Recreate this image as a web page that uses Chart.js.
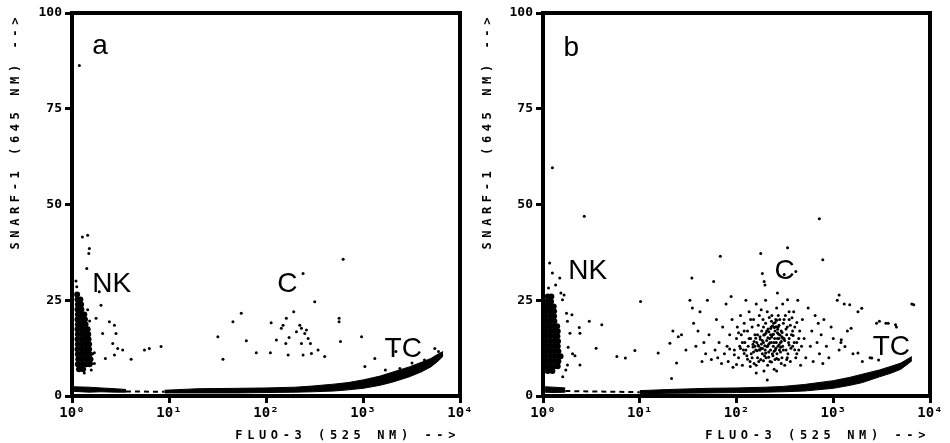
<!DOCTYPE html>
<html>
<head>
<meta charset="utf-8">
<script src="https://cdn.jsdelivr.net/npm/chart.js@4.4.1/dist/chart.umd.min.js"></script>
<style>
  body { margin: 0; background: #fff; width: 950px; height: 443px; overflow: hidden; display: flex; }
  .panel { width: 475px; height: 443px; }
</style>
</head>
<body>
<div class="panel"><canvas id="chart-a" width="475" height="443"></canvas></div>
<div class="panel"><canvas id="chart-b" width="475" height="443"></canvas></div>
<script>
// axes
const xTickValues = [1, 10, 100, 1000, 10000];
const xTickLabels = ['10⁰', '10¹', '10²', '10³', '10⁴'];
const yTickValues = [0, 25, 50, 75, 100];
const xTitle = 'FLUO-3 (525 NM) -->';
const yTitle = 'SNARF-1 (645 NM) -->';

// panel a: NK cluster
const aNK = [
  [1.18,7.0],[1.30,7.0],
  [1.15,8.3],[1.27,8.3],[1.40,8.3],[1.52,8.3],
  [1.16,9.6],[1.28,9.6],[1.41,9.6],[1.55,9.6],
  [1.15,10.9],[1.27,10.9],[1.39,10.9],[1.52,10.9],
  [1.14,12.2],[1.26,12.2],[1.38,12.2],[1.50,12.2],
  [1.15,13.5],[1.27,13.5],[1.40,13.5],[1.50,13.5],
  [1.14,14.8],[1.26,14.8],[1.38,14.8],[1.48,14.8],
  [1.15,16.1],[1.27,16.1],[1.39,16.1],[1.47,16.1],
  [1.14,17.4],[1.26,17.4],[1.38,17.4],[1.45,17.4],
  [1.15,18.7],[1.27,18.7],[1.38,18.7],
  [1.14,20.0],[1.26,20.0],[1.36,20.0],
  [1.15,21.3],[1.26,21.3],[1.34,21.3],
  [1.14,22.6],[1.25,22.6],
  [1.15,23.9],[1.24,23.9],
  [1.14,25.2],[1.22,25.2],
  [1.13,26.5]
];
// panel a: single events (stragglers, C cells, outliers)
const aScatter = [
  [1.19,86.3],[1.28,41.5],[1.45,42],[1.51,38.5],[1.49,37.2],[1.42,33.3],[1.91,27.2],[1.99,23.7],
  [1.77,20.3],[2.43,19.4],[2.74,18.5],[2.07,16.3],[2.84,16.3],[2.63,13.7],[2.96,12.4],[3.33,12],
  [2.74,10.7],[2.21,9.8],[4.07,9.6],[1.70,11.3],[1.70,8.5],[5.58,12],[6.27,12.4],[8.28,12.9],
  [1.63,11],[1.60,8.5],[1.34,6.0],[1.58,6.8],[1.12,28.5],[1.10,30],[1.52,19.6],[1.45,22.5],
  [31.9,15.5],[36,9.6],[45.6,19.4],[55.6,21.6],[62.7,14.4],[79.4,11.3],[111,11.3],[113,19.1],
  [128,14.6],[144,17.7],[150,18.5],[162,20.3],[160,13.7],[169,10.7],[173,15.3],[193,22],
  [206,16.8],[223,18.5],[232,17.7],[232,13.7],[241,10.7],[251,16.3],[261,17.2],[272,15],
  [287,13.7],[294,11.1],[318,24.6],[344,12],[403,10.3],[241,32],[624,35.7],[567,20.3],
  [567,19.4],[586,14.2],[966,15.5],[1045,7.7],[1324,9.8],[2183,11.6],
  [2400,7.2],[4300,9.4],[5500,12.4],[6000,11.6],[3200,8.6],[1700,6.8]
];
// panel a: TC band edges
const aTcLeftUpper = [[1.05,2.4],[1.5,2.3],[2,2.1],[2.8,1.9],[3.6,1.7]];
const aTcLeftLower = [[1.05,1.2],[1.5,1.0],[2,1.1],[2.8,1.0],[3.6,1.0]];
const aTcDash = [[3.6,1.2],[9,1.1]];
const aTcUpper = [[9,1.5],[20,1.9],[50,2.0],[100,2.1],[200,2.3],[300,2.6],[500,3.1],[700,3.5],
  [1000,4.2],[1500,5.2],[2000,6.2],[3000,7.6],[4000,8.8],[5000,9.8],[6000,11.0],[6700,11.6]];
const aTcLower = [[9,0.8],[20,0.8],[50,0.8],[100,0.9],[200,1.0],[300,1.1],[500,1.3],[700,1.6],
  [1000,2.0],[1500,2.8],[2000,3.6],[3000,5.0],[4000,6.3],[5000,7.6],[6000,9.2],[6700,10.4]];
const aLabels = [
  { text: 'a', x: 1.95, y: 89.4 },
  { text: 'NK', x: 2.57, y: 27.2 },
  { text: 'C', x: 166, y: 27.2 },
  { text: 'TC', x: 2600, y: 10.3 }
];

// panel b: NK cluster
const bNK = [
  [1.12,6.5],[1.25,6.5],
  [1.08,7.8],[1.19,7.8],[1.31,7.8],[1.42,7.8],
  [1.08,9.1],[1.19,9.1],[1.31,9.1],[1.44,9.1],
  [1.07,10.4],[1.18,10.4],[1.30,10.4],[1.43,10.4],[1.52,10.4],
  [1.08,11.7],[1.19,11.7],[1.31,11.7],[1.44,11.7],
  [1.07,13.0],[1.18,13.0],[1.30,13.0],[1.42,13.0],
  [1.08,14.3],[1.19,14.3],[1.31,14.3],[1.43,14.3],
  [1.07,15.6],[1.18,15.6],[1.30,15.6],[1.41,15.6],
  [1.08,16.9],[1.19,16.9],[1.31,16.9],[1.42,16.9],
  [1.07,18.2],[1.18,18.2],[1.30,18.2],[1.40,18.2],
  [1.08,19.5],[1.19,19.5],[1.31,19.5],
  [1.07,20.8],[1.18,20.8],[1.30,20.8],
  [1.08,22.1],[1.19,22.1],[1.30,22.1],
  [1.09,23.4],[1.20,23.4],[1.29,23.4],
  [1.10,24.7],[1.21,24.7],
  [1.12,26.0],[1.22,26.0]
];
// panel b: C cells
const bC = [
  [15.5,11.2],[20.5,13.8],[21.3,4.6],[22,17],[24,8.6],[25,15.5],[27,16],[30,12],[33,25],[35,23],
  [36,19],[38,13],[40,17],[42,22],[44,9],[46,14],[48,11],[50,25],[52,16],[55,9.5],[60,12],
  [62,20],[64,10],[66,14],[70,8.5],[72,18],[75,11],[78,24],[80,13],[82,9],[85,16],[88,26],
  [90,20],[92,7.5],[95,12],
  [100,15],[102,18],[105,10],[108,13],[110,21],[112,16],[115,8],[118,12],[120,19],[122,14],
  [125,25],[128,10.5],[130,17],[132,13],[135,22],[138,9],[140,15],[142,11],[145,18],[148,13.5],
  [150,20],[152,8.5],[155,16],[158,12],[160,24],[162,14],[165,10],[168,18.5],[170,13],[172,21],
  [175,15.5],[178,9.5],[180,12.5],[182,17],[185,11],[188,20],[190,14],[192,6.5],[195,16],[198,12],
  [200,19],[202,10],[205,14.5],[208,22],[210,13],[212,17.5],[215,11.5],[218,20.5],[220,15],[222,9],
  [225,12],[228,18],[230,14],[232,21],[235,16],[238,10.5],[240,13],[242,19],[245,7],[248,15],
  [250,17],[252,12],[255,20],[258,14],[260,23],[262,11],[265,16.5],[268,13],[270,18],[272,9.5],
  [275,15],[278,12],[280,20],[285,14],[290,17],[295,10],[300,13],[305,19],[310,15],[315,8],
  [320,21],[325,12],[330,16],[335,18],[340,11],[345,14],[350,20],[360,9],[370,16],[380,13],
  [390,22],[400,18],[410,10],[420,14],[430,25],[440,12],[450,17],[460,8],[480,20],
  [105,16.5],[115,14],[125,12],[135,15],[145,10],[155,13],[165,16],[175,12],[185,14.5],[195,10.5],
  [205,17],[215,13.5],[225,16],[235,11],[245,14],[255,12.5],[265,15],[275,18.5],[285,11.5],[295,15.5],
  [305,12],[315,14.5],[325,17.5],[335,10],[350,15],[365,12.5],[380,17],[395,14],[420,11],[440,15],
  [470,13],[150,11.5],[170,9],[190,18],[210,8],[230,19.5],[250,9.5],[270,21],[290,8.5],[310,20],
  [330,9.5],[350,22],[120,17],[140,20],[160,8],[180,22.5],[200,25],[260,6.5],[300,24],[160,6],
  [148,12.8],[152,14.2],[158,15.1],[163,11.8],[167,13.3],[172,12.1],[176,14.8],[181,13.6],[186,12.4],
  [191,15.9],[196,13.1],[201,16.4],[206,12.9],[211,15.2],[216,16.8],[221,13.9],[226,17.6],[231,15.4],
  [236,18.3],[241,16.1],[246,17.9],[251,19.2],[256,18.1],[261,19.8],[266,17.4],[271,16.2],[276,13.4],
  [281,15.9],[286,12.7],[291,14.2],[296,16.6],[301,15.1],[190,9.2],[200,11.2],[215,10.1],[230,8.9],
  [245,11.7],[260,9.8],[120,11.1],[130,9.6],[110,12.4],[95,10.8],[85,12.3],[100,8.2],[360,18.5],
  [375,20.4],[385,15.8],[400,12.1],[420,19.2],[350,13.3],
  [500,15],[520,10],[550,23],[580,13],[600,17],[620,9],[650,21],[680,14],[700,19],[720,11],
  [750,16],[780,8.5],[800,20],[850,13],[900,10],[950,18],[1000,15],[1100,25],[1150,12],[1200,14],
  [1300,24],[1400,17],[1600,11],[1800,22],[2000,9],[2400,10],[2800,19],[3500,19],[4500,18],[6500,24]
];
// panel b: single events (stragglers, outliers)
const bScatter = [
  [1.25,59.6],[2.67,46.9],[718,46.3],[337,38.7],[178,37.2],[68,36.5],[780,35.6],[34.6,30.8],
  [58,29.9],[1150,26.4],[1480,23.8],[1970,22.9],[1530,17.7],[6800,23.8],[3000,19.5],[3700,19],
  [4400,18.6],[1800,11.2],[2500,9.9],[2940,9.4],[1210,14.7],[1320,12.9],[208,4.2],[139,7.7],
  [1.17,34.7],[1.25,32.1],[1.49,30.8],[1.35,29],[1.14,28.2],[1.53,26.9],[1.65,26.4],[1.59,25.1],
  [1.75,21.6],[1.99,21.2],[1.79,19.5],[2.37,17.9],[2.41,16.4],[1.9,16.4],[3.01,19.5],[4.05,18.6],
  [3.54,12.5],[1.82,12.7],[2.02,11],[2.14,10.5],[1.79,8.1],[2.41,8.1],[1.72,6.8],[5.8,10.3],
  [7.1,9.9],[8.9,11.9],[10.2,24.7],[1.6,5.0],
  [193,29.9],[197,29],[185,32],[311,31.7],[410,32.5],[265,26.9],[337,25.1]
];
// panel b: TC band edges
const bTcLeftUpper = [[1.05,2.4],[1.3,2.3],[1.7,2.1]];
const bTcLeftLower = [[1.05,1.0],[1.3,0.9],[1.7,1.0]];
const bTcDash = [[1.7,1.3],[10,1.0]];
const bTcUpper = [[10,1.4],[20,1.7],[50,2.0],[100,2.1],[200,2.3],[300,2.5],[500,3.0],[1000,4.0],
  [1500,4.9],[2000,5.7],[3000,6.8],[4000,7.8],[5000,8.6],[6000,9.8],[6500,10.3]];
const bTcLower = [[10,0.6],[20,0.7],[50,0.8],[100,0.9],[200,1.0],[300,1.1],[500,1.3],[1000,2.0],
  [1500,2.8],[2000,3.5],[3000,5.0],[4000,6.0],[5000,7.0],[6000,8.5],[6500,9.2]];
const bLabels = [
  { text: 'b', x: 1.96, y: 88.8 },
  { text: 'NK', x: 2.9, y: 30.5 },
  { text: 'C', x: 314, y: 30.5 },
  { text: 'TC', x: 3990, y: 10.7 }
];

const monoBold = (size) => ({ family: '"DejaVu Sans Mono", monospace', weight: 'bold', size: size });

function bandPair(upper, lower) {
  return [
    { data: upper, showLine: true, pointRadius: 0, borderColor: '#000', borderWidth: 1,
      backgroundColor: '#000', fill: '+1' },
    { data: lower, showLine: true, pointRadius: 0, borderColor: '#000', borderWidth: 1, fill: false }
  ];
}

function points(data, radius) {
  return { data: data, showLine: false, fill: false, pointRadius: radius, pointBorderWidth: 0,
    pointBackgroundColor: '#000', pointHoverRadius: radius };
}

function decorPlugin(labels, yTitleX) {
  return {
    id: 'decor',
    afterDraw(chart) {
      const { ctx, chartArea: a, scales: { x, y } } = chart;
      ctx.save();
      ctx.strokeStyle = '#000';
      ctx.lineWidth = 4;
      ctx.strokeRect(a.left, a.top, a.right - a.left, a.bottom - a.top);

      ctx.fillStyle = '#000';
      ctx.font = '28px "Liberation Sans", Arial, sans-serif';
      ctx.textAlign = 'center';
      ctx.textBaseline = 'alphabetic';
      labels.forEach(l => ctx.fillText(l.text, x.getPixelForValue(l.x), y.getPixelForValue(l.y)));

      // axis titles, spaced like the original print
      ctx.font = 'bold 12px "DejaVu Sans Mono", monospace';
      ctx.letterSpacing = '4.6px';
      ctx.textAlign = 'right';
      ctx.fillText(xTitle, a.right, 439);
      ctx.translate(yTitleX, a.top);
      ctx.rotate(-Math.PI / 2);
      ctx.textBaseline = 'middle';
      ctx.fillText(yTitle, 0, 0);
      ctx.restore();
    }
  };
}

function makePanel(canvasId, p) {
  const datasets = [
    ...bandPair(p.tcUpper, p.tcLower),
    ...bandPair(p.tcLeftUpper, p.tcLeftLower),
    { data: p.tcDash, showLine: true, pointRadius: 0, borderColor: '#000', borderWidth: 2,
      borderDash: [5, 4], fill: false },
    points(p.nk, 3),
    points(p.scatter, 1.5)
  ];
  if (p.cluster) datasets.push(points(p.cluster, 1.5));

  new Chart(document.getElementById(canvasId), {
    type: 'line',
    data: { datasets: datasets },
    options: {
      responsive: false,
      animation: false,
      devicePixelRatio: 1,
      layout: { padding: { top: 13, right: p.padRight, left: 0, bottom: 0 } },
      plugins: { legend: { display: false }, tooltip: { enabled: false } },
      elements: { line: { tension: 0 } },
      scales: {
        x: {
          type: 'logarithmic',
          min: 1,
          max: 10000,
          afterBuildTicks: s => { s.ticks = xTickValues.map(v => ({ value: v })); },
          afterFit: s => { s.height = 47; s.paddingLeft = 0; s.paddingRight = 0; },
          ticks: {
            callback: v => xTickLabels[xTickValues.indexOf(v)],
            font: monoBold(14),
            color: '#000',
            padding: 2,
            maxRotation: 0,
            autoSkip: false
          },
          grid: { drawOnChartArea: false, drawTicks: true, tickLength: 7, lineWidth: 3, color: '#000' },
          border: { display: true, width: 4, color: '#000' }
        },
        y: {
          type: 'linear',
          min: 0,
          max: 100,
          afterBuildTicks: s => { s.ticks = yTickValues.map(v => ({ value: v })); },
          afterFit: s => { s.width = p.yWidth; },
          ticks: { font: monoBold(13), color: '#000', padding: 3 },
          grid: { drawOnChartArea: false, drawTicks: true, tickLength: 7, lineWidth: 3, color: '#000' },
          border: { display: true, width: 4, color: '#000' }
        }
      }
    },
    plugins: [decorPlugin(p.labels, p.yTitleX)]
  });
}

makePanel('chart-a', {
  nk: aNK, scatter: aScatter, cluster: null,
  tcUpper: aTcUpper, tcLower: aTcLower, tcLeftUpper: aTcLeftUpper, tcLeftLower: aTcLeftLower, tcDash: aTcDash,
  labels: aLabels, padRight: 15, yWidth: 72, yTitleX: 16
});

makePanel('chart-b', {
  nk: bNK, scatter: bScatter, cluster: bC,
  tcUpper: bTcUpper, tcLower: bTcLower, tcLeftUpper: bTcLeftUpper, tcLeftLower: bTcLeftLower, tcDash: bTcDash,
  labels: bLabels, padRight: 20, yWidth: 68, yTitleX: 13
});
</script>
</body>
</html>
